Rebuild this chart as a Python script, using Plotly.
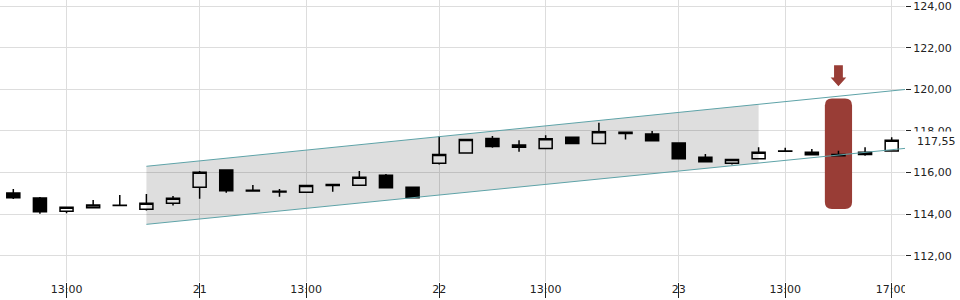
import plotly.graph_objects as go

# ---------------- data ----------------
times = (
    [f"20 {h:02d}:00" for h in range(11, 18)]
    + [f"21 {h:02d}:00" for h in range(9, 18)]
    + [f"22 {h:02d}:00" for h in range(9, 18)]
    + [f"23 {h:02d}:00" for h in range(9, 18)]
)
open_ = [115.02, 114.78, 114.14, 114.31, 114.42, 114.23, 114.52,
         115.29, 116.12, 115.15, 115.10, 115.05, 115.42, 115.39, 115.87, 115.29,
         116.44, 116.94, 117.64, 117.32, 117.16, 117.69, 117.40, 117.93, 117.85,
         117.42, 116.73, 116.44, 116.66, 117.02, 116.98, 116.87, 116.87, 117.03]
high = [115.21, 114.82, 114.33, 114.68, 114.92, 114.97, 114.87,
        116.07, 116.14, 115.40, 115.21, 115.40, 115.43, 116.07, 115.93, 115.30,
        117.75, 117.60, 117.75, 117.55, 117.79, 117.70, 118.39, 117.96, 117.99,
        117.43, 116.89, 116.63, 117.22, 117.19, 117.13, 117.05, 117.21, 117.69]
low = [114.73, 114.02, 114.04, 114.28, 114.42, 114.17, 114.41,
       114.74, 115.03, 115.10, 114.84, 115.03, 115.08, 115.39, 115.27, 114.79,
       116.39, 116.94, 117.19, 117.00, 117.16, 117.40, 117.40, 117.59, 117.53,
       116.66, 116.52, 116.39, 116.66, 117.02, 116.85, 116.81, 116.81, 117.03]
close = [114.79, 114.12, 114.33, 114.44, 114.43, 114.52, 114.76,
         116.01, 115.13, 115.11, 115.06, 115.38, 115.38, 115.77, 115.27, 114.79,
         116.87, 117.59, 117.25, 117.22, 117.62, 117.40, 117.96, 117.88, 117.53,
         116.66, 116.52, 116.63, 116.97, 117.03, 116.85, 116.81, 116.98, 117.55]

tick_times = ["20 13:00", "21 09:00", "21 13:00", "22 09:00", "22 13:00",
              "23 09:00", "23 13:00", "23 17:00"]
tick_labels = ["13:00", "21", "13:00", "22", "13:00", "23", "13:00", "17:00"]

# trend channel (index position -> value)
channel_x = [5, 33.5]
channel_upper = [116.30, 119.99]
channel_lower = [113.51, 117.16]
shade_end_x = 28

# signal marker
signal_time = "23 15:00"
signal_low = 114.25
signal_high = 119.56
arrow_top = 121.16
arrow_tip = 120.15

# ---------------- layout constants ----------------
W, H = 960, 300
M_L, M_R, M_T, M_B = 0, 55, 0, 18
X_RANGE = [-0.5, 33.5]
Y_RANGE = [110.74, 124.29]
px_x = (W - M_L - M_R) / (X_RANGE[1] - X_RANGE[0])
px_y = (H - M_T - M_B) / (Y_RANGE[1] - Y_RANGE[0])

RED = "#993d36"
TEAL = "#5ea3a8"
GRID = "#dddddd"
FONT = "DejaVu Sans"

x = list(range(len(times)))
tickvals = [times.index(t) for t in tick_times]


def lerp(xs, ys, xv):
    return ys[0] + (ys[1] - ys[0]) * (xv - xs[0]) / (xs[1] - xs[0])


fig = go.Figure()

# shaded channel
sx = [channel_x[0], shade_end_x, shade_end_x, channel_x[0]]
sy = [channel_upper[0], lerp(channel_x, channel_upper, shade_end_x),
      lerp(channel_x, channel_lower, shade_end_x), channel_lower[0]]
fig.add_trace(go.Scatter(x=sx, y=sy, fill="toself", fillcolor="rgba(0,0,0,0.13)",
                         line=dict(width=0), mode="lines", hoverinfo="skip"))
for ys in (channel_upper, channel_lower):
    fig.add_trace(go.Scatter(x=channel_x, y=ys, mode="lines",
                             line=dict(color=TEAL, width=1), hoverinfo="skip"))

fig.add_trace(go.Candlestick(
    x=x, open=open_, high=high, low=low, close=close,
    increasing=dict(fillcolor="white", line=dict(color="black", width=1.5)),
    decreasing=dict(fillcolor="black", line=dict(color="black", width=1.5)),
    whiskerwidth=0,
))

# signal rounded rectangle
si = times.index(signal_time)
half_w = 13.6 / px_x
rx, ry = 7 / px_x, 7 / px_y
x0, x1 = si - half_w, si + half_w
y0, y1 = signal_low, signal_high
rect_path = (f"M{x0+rx},{y1} L{x1-rx},{y1} Q{x1},{y1} {x1},{y1-ry} "
             f"L{x1},{y0+ry} Q{x1},{y0} {x1-rx},{y0} L{x0+rx},{y0} "
             f"Q{x0},{y0} {x0},{y0+ry} L{x0},{y1-ry} Q{x0},{y1} {x0+rx},{y1} Z")
# arrow
sw, hw = 4.4 / px_x, 7.8 / px_x
head_h = 8.7 / px_y
ah = arrow_tip + head_h
arrow_path = (f"M{si-sw},{arrow_top} L{si+sw},{arrow_top} L{si+sw},{ah} "
              f"L{si+hw},{ah} L{si},{arrow_tip} L{si-hw},{ah} L{si-sw},{ah} Z")

shapes = [
    dict(type="path", path=rect_path, xref="x", yref="y", fillcolor=RED,
         line=dict(width=0), layer="between"),
    dict(type="path", path=arrow_path, xref="x", yref="y", fillcolor=RED,
         line=dict(width=0), layer="between"),
    # clip x labels beyond plot right edge
    dict(type="rect", xref="paper", yref="paper", x0=1.0, x1=1.2, y0=-0.2, y1=-0.003,
         fillcolor="white", line=dict(width=0), layer="above"),
]

last_txt = f"{close[-1]:.2f}".replace(".", ",")

fig.update_layout(
    width=W, height=H,
    margin=dict(l=M_L, r=M_R, t=M_T, b=M_B),
    paper_bgcolor="white", plot_bgcolor="white",
    showlegend=False,
    separators=", ",
    font=dict(family=FONT, size=11, color="#222"),
    shapes=shapes,
    xaxis=dict(range=X_RANGE, tickvals=tickvals, ticktext=tick_labels,
               showgrid=True, gridcolor=GRID, gridwidth=1, zeroline=False,
               showline=False, ticks="outside", ticklen=15, tickwidth=1,
               tickcolor="#222", ticklabelstandoff=-18,
               ticklabeloverflow="allow",
               rangeslider=dict(visible=False), fixedrange=True),
    yaxis=dict(range=Y_RANGE, side="right", dtick=2, tick0=0, tickformat=".2f",
               showgrid=True, gridcolor=GRID, gridwidth=1, zeroline=False,
               showline=False, ticks="outside", ticklen=5, tickwidth=1,
               tickcolor="#222", ticklabeloverflow="allow", fixedrange=True),
    annotations=[dict(x=1, xref="paper", y=close[-1], yref="y", text=last_txt,
                      showarrow=False, xanchor="left", yanchor="middle",
                      xshift=8, yshift=-1, bgcolor="white", borderpad=3,
                      font=dict(family=FONT, size=11, color="#222"))],
)

fig.write_html("out.html")
